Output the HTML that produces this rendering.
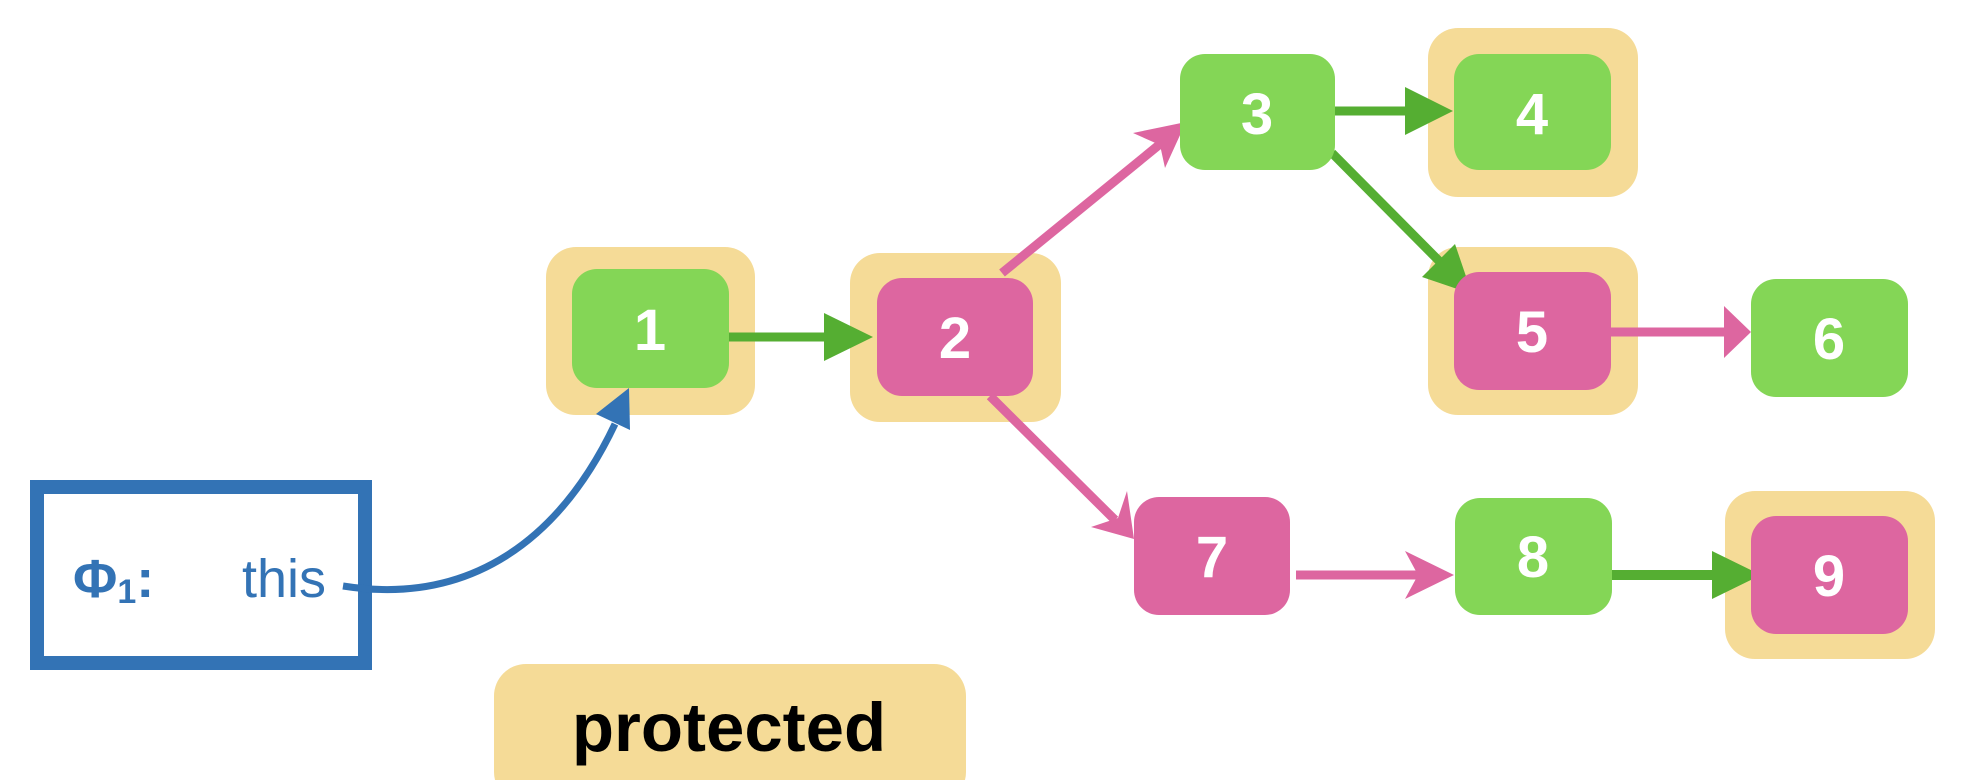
<!DOCTYPE html>
<html><head><meta charset="utf-8"><style>
html,body{margin:0;padding:0;background:#fff;width:1964px;height:780px;overflow:hidden}
svg{display:block}
.n{font-family:"Liberation Sans",sans-serif;font-weight:bold;font-size:58px;fill:#fff;text-anchor:middle}
</style></head><body>
<svg width="1964" height="780" viewBox="0 0 1964 780" xmlns="http://www.w3.org/2000/svg">
<g fill="#f5db97">
<rect x="546" y="247" width="209" height="168" rx="30"/>
<rect x="850" y="253" width="211" height="169" rx="30"/>
<rect x="1428" y="28" width="210" height="169" rx="30"/>
<rect x="1428" y="247" width="210" height="168" rx="30"/>
<rect x="1725" y="491" width="210" height="168" rx="30"/>
<rect x="494" y="664" width="472" height="140" rx="32"/>
</g>
<g stroke-width="9" fill="none">
<line x1="729" y1="337" x2="830" y2="337" stroke="#55ae32"/>
<line x1="1335" y1="111" x2="1410" y2="111" stroke="#55ae32"/>
<line x1="1332" y1="153" x2="1450" y2="272" stroke="#55ae32"/>
<line x1="1611" y1="332" x2="1730" y2="332" stroke="#dd66a0"/>
<line x1="1002" y1="273" x2="1165" y2="140" stroke="#dd66a0"/>
<line x1="990" y1="396" x2="1115" y2="520" stroke="#dd66a0"/>
<line x1="1296" y1="575" x2="1440" y2="575" stroke="#dd66a0"/>
<line x1="1604" y1="575" x2="1720" y2="575" stroke="#55ae32" stroke-width="10"/>
</g>
<g>
<polygon points="873,337 824,313 824,361" fill="#55ae32"/>
<polygon points="1453,111 1405,87 1405,135" fill="#55ae32"/>
<polygon points="1472,294 1455,244 1422,277" fill="#55ae32"/>
<polygon points="1751,332 1724,306 1724,358" fill="#dd66a0"/>
<polygon points="1186,122 1133,133 1160,145 1165,168" fill="#dd66a0"/>
<polygon points="1134,539 1127,491 1118,518 1091,527" fill="#dd66a0"/>
<polygon points="1454,575 1405,551 1418,575 1405,599" fill="#dd66a0"/>
<polygon points="1761,575 1712,551 1712,599" fill="#55ae32"/>
</g>
<rect x="572" y="269" width="157" height="119" rx="25" fill="#84d656"/>
<rect x="877" y="278" width="156" height="118" rx="25" fill="#dd66a0"/>
<rect x="1180" y="54" width="155" height="116" rx="25" fill="#84d656"/>
<rect x="1454" y="54" width="157" height="116" rx="25" fill="#84d656"/>
<rect x="1454" y="272" width="157" height="118" rx="25" fill="#dd66a0"/>
<rect x="1751" y="279" width="157" height="118" rx="25" fill="#84d656"/>
<rect x="1134" y="497" width="156" height="118" rx="25" fill="#dd66a0"/>
<rect x="1455" y="498" width="157" height="117" rx="25" fill="#84d656"/>
<rect x="1751" y="516" width="157" height="118" rx="25" fill="#dd66a0"/>
<text class="n" x="650" y="350">1</text>
<text class="n" x="955" y="358">2</text>
<text class="n" x="1257" y="134">3</text>
<text class="n" x="1532" y="134">4</text>
<text class="n" x="1532" y="352">5</text>
<text class="n" x="1829" y="359">6</text>
<text class="n" x="1212" y="577">7</text>
<text class="n" x="1533" y="577">8</text>
<text class="n" x="1829" y="596">9</text>
<rect x="37" y="487" width="328" height="176" fill="none" stroke="#3373b5" stroke-width="14"/>
<text x="73" y="597" font-family="Liberation Sans, sans-serif" font-weight="bold" font-size="54" fill="#3373b5">Φ<tspan font-size="34" dy="6">1</tspan><tspan dy="-6">:</tspan></text>
<text x="242" y="597" font-family="Liberation Sans, sans-serif" font-size="54" fill="#3373b5">this</text>
<path d="M343,586 C470,606 560,540 615,424" fill="none" stroke="#3373b5" stroke-width="7"/>
<polygon points="629,388 596,414 630,430" fill="#3373b5"/>
<text x="729" y="751" text-anchor="middle" font-family="Liberation Sans, sans-serif" font-weight="bold" font-size="69" fill="#000">protected</text>
</svg>
</body></html>
